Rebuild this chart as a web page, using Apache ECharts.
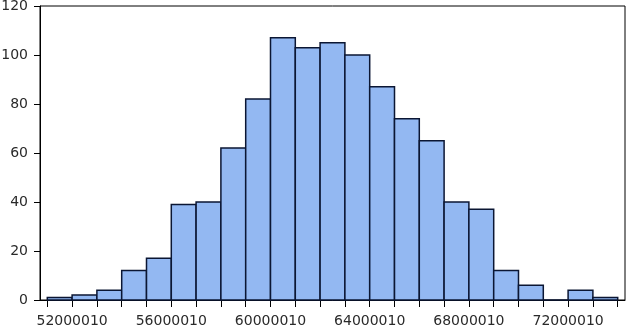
<!DOCTYPE html>
<html>
<head>
<meta charset="utf-8">
<script src="https://cdn.jsdelivr.net/npm/echarts@6/dist/echarts.min.js"></script>
<style>
html,body{margin:0;padding:0;background:#fff;}
#c{width:626px;height:325px;}
</style>
</head>
<body>
<div id="c"></div>
<script>
// Bin edges (lower edge of each bin, plus final upper edge)
var binEdges = [51000010, 52000010, 53000010, 54000010, 55000010, 56000010, 57000010, 58000010,
  59000010, 60000010, 61000010, 62000010, 63000010, 64000010, 65000010, 66000010, 67000010,
  68000010, 69000010, 70000010, 71000010, 72000010, 73000010, 74000010];
// Frequency of each bin
var counts = [1, 2, 4, 12, 17, 39, 40, 62, 82, 107, 103, 105, 100, 87, 74, 65, 40, 37, 12, 6, 0, 4, 1];
// Labelled x ticks
var xLabels = [52000010, 56000010, 60000010, 64000010, 68000010, 72000010];
var yTicks = [0, 20, 40, 60, 80, 100, 120];

var data = [];
for (var i = 0; i < counts.length; i++) {
  data.push([binEdges[i], binEdges[i + 1], counts[i]]);
}

var chart = echarts.init(document.getElementById('c'));
chart.setOption({
  animation: false,
  backgroundColor: '#fff',
  grid: { left: 40, right: 1, top: 6, bottom: 25, show: true, borderColor: '#000', borderWidth: 1,
    containLabel: false, outerBoundsMode: 'none' },
  xAxis: {
    type: 'value',
    min: 50705655,
    max: 74294365,
    axisLine: { show: true, onZero: false, lineStyle: { color: '#000', width: 1 } },
    axisTick: { show: true, customValues: binEdges, length: 7, lineStyle: { color: '#000', width: 1 } },
    axisLabel: {
      customValues: xLabels,
      formatter: function (v) { return String(v); },
      fontFamily: 'DejaVu Sans', fontSize: 14, color: '#2a2a2a', margin: 14
    },
    splitLine: { show: false }
  },
  yAxis: {
    type: 'value',
    min: yTicks[0],
    max: yTicks[yTicks.length - 1],
    interval: 20,
    axisLine: { show: true, lineStyle: { color: '#000', width: 1 } },
    axisTick: { show: true, length: 6, lineStyle: { color: '#000', width: 1 } },
    axisLabel: { fontFamily: 'DejaVu Sans', fontSize: 14, color: '#2a2a2a', margin: 12 },
    splitLine: { show: false }
  },
  series: [{
    type: 'custom',
    data: data,
    encode: { x: [0, 1], y: 2 },
    renderItem: function (params, api) {
      var p0 = api.coord([api.value(0), api.value(2)]);
      var p1 = api.coord([api.value(1), 0]);
      return {
        type: 'rect',
        shape: { x: p0[0], y: p0[1], width: p1[0] - p0[0], height: p1[1] - p0[1] },
        style: { fill: '#93b8f2', stroke: '#0b1633', lineWidth: 1.5 }
      };
    }
  }]
});
</script>
</body>
</html>
